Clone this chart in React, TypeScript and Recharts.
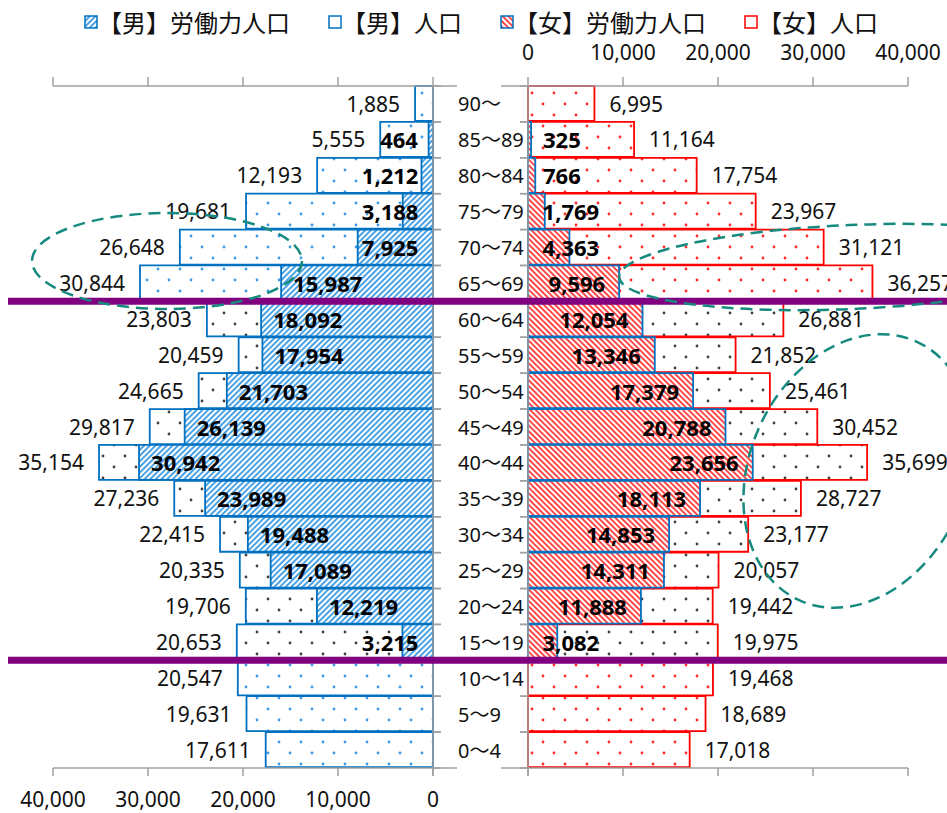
import React from 'react';
import { BarChart, Bar, XAxis, YAxis, Cell, LabelList } from 'recharts';

// age groups, youngest first
const ages = ['0～4', '5～9', '10～14', '15～19', '20～24', '25～29', '30～34', '35～39', '40～44', '45～49', '50～54', '55～59', '60～64', '65～69', '70～74', '75～79', '80～84', '85～89', '90～'];
const workingAges = ['15～19', '20～24', '25～29', '30～34', '35～39', '40～44', '45～49', '50～54', '55～59', '60～64'];

const malePop = [17611, 19631, 20547, 20653, 19706, 20335, 22415, 27236, 35154, 29817, 24665, 20459, 23803, 30844, 26648, 19681, 12193, 5555, 1885];
const maleLabor = [null, null, null, 3215, 12219, 17089, 19488, 23989, 30942, 26139, 21703, 17954, 18092, 15987, 7925, 3188, 1212, 464, null];
const femalePop = [17018, 18689, 19468, 19975, 19442, 20057, 23177, 28727, 35699, 30452, 25461, 21852, 26881, 36257, 31121, 23967, 17754, 11164, 6995];
const femaleLabor = [null, null, null, 3082, 11888, 14311, 14853, 18113, 23656, 20788, 17379, 13346, 12054, 9596, 4363, 1769, 766, 325, null];

const xTicks = [0, 10000, 20000, 30000, 40000];
const legendNames = ['【男】労働力人口', '【男】人口', '【女】労働力人口', '【女】人口'];

const data = ages.map((age, i) => ({
  age,
  malePop: malePop[i],
  maleLabor: maleLabor[i],
  femalePop: femalePop[i],
  femaleLabor: femaleLabor[i],
}));

const W = 947;
const H = 813;
const PLOT_TOP = 86;
const PLOT_BOTTOM = 768;
const L_LEFT = 53;
const L_RIGHT = 433;
const R_LEFT = 528;
const R_RIGHT = 908;
const BAND = (PLOT_BOTTOM - PLOT_TOP) / ages.length;

const FONT = "'Noto Sans', 'Noto Sans CJK JP', sans-serif";
const AXIS = '#a0a0a0';
const BLUE = '#0070C0';
const RED = '#FF0000';

const fmt = (v: number) => v.toLocaleString('en-US');
const blank = () => '';
const boldWidth = (s: string) => s.split('').reduce((w, c) => w + (c === ',' ? 5.8 : 12.6), 0);

const getBox = (p: any) => {
  const vb = p.viewBox || {};
  const x = p.x ?? vb.x;
  const y = p.y ?? vb.y;
  const width = p.width ?? vb.width;
  const height = p.height ?? vb.height;
  return { x, y, width, height };
};

const LeftPopLabel = (p: any) => {
  if (p.value == null) return null;
  const { x, y, width, height } = getBox(p);
  const end = Math.min(x, x + width);
  return (
    <text x={end - 15} y={y + height / 2} textAnchor="end" dominantBaseline="central" fontSize={21} fontFamily={FONT} fill="#111">
      {fmt(p.value)}
    </text>
  );
};

const RightPopLabel = (p: any) => {
  if (p.value == null) return null;
  const { x, y, width, height } = getBox(p);
  const end = Math.max(x, x + width);
  return (
    <text x={end + 15} y={y + height / 2} textAnchor="start" dominantBaseline="central" fontSize={21} fontFamily={FONT} fill="#111">
      {fmt(p.value)}
    </text>
  );
};

const LeftLaborLabel = (p: any) => {
  if (p.value == null) return null;
  const { x, y, width, height } = getBox(p);
  const end = Math.min(x, x + width);
  const s = fmt(p.value);
  const left = Math.min(end + 12, L_RIGHT - 15 - boldWidth(s));
  return (
    <text x={left} y={y + height / 2} textAnchor="start" dominantBaseline="central" fontSize={22} fontWeight="bold" fontFamily={FONT} fill="#000">
      {s}
    </text>
  );
};

const RightLaborLabel = (p: any) => {
  if (p.value == null) return null;
  const { x, y, width, height } = getBox(p);
  const end = Math.max(x, x + width);
  const s = fmt(p.value);
  const right = Math.max(end - 14, R_LEFT + 15 + boldWidth(s));
  return (
    <text x={right} y={y + height / 2} textAnchor="end" dominantBaseline="central" fontSize={22} fontWeight="bold" fontFamily={FONT} fill="#000">
      {s}
    </text>
  );
};

// category ticks sit on band boundaries, like Excel
const LeftCatTick = (p: any) => {
  const y = p.y;
  return (
    <g>
      <line x1={L_RIGHT} x2={L_RIGHT + 8} y1={y - BAND / 2} y2={y - BAND / 2} stroke={AXIS} strokeWidth={1.5} />
      <line x1={L_RIGHT} x2={L_RIGHT + 8} y1={y + BAND / 2} y2={y + BAND / 2} stroke={AXIS} strokeWidth={1.5} />
    </g>
  );
};

const RightCatTick = (p: any) => {
  const y = p.y;
  return (
    <g>
      <line x1={R_LEFT - 8} x2={R_LEFT} y1={y - BAND / 2} y2={y - BAND / 2} stroke={AXIS} strokeWidth={1.5} />
      <line x1={R_LEFT - 8} x2={R_LEFT} y1={y + BAND / 2} y2={y + BAND / 2} stroke={AXIS} strokeWidth={1.5} />
      <text x={458} y={y} textAnchor="start" dominantBaseline="central" fontSize={20} fontFamily={FONT} fill="#111">
        {p.payload.value}
      </text>
    </g>
  );
};

const Patterns = () => (
  <svg width={0} height={0} style={{ position: 'absolute' }}>
    <defs>
      <pattern id="hatchBlue" width={4} height={4} patternUnits="userSpaceOnUse" patternTransform="rotate(45)">
        <rect width={4} height={4} fill="#fff" />
        <rect width={2} height={4} fill="#4ba2e4" />
      </pattern>
      <pattern id="hatchRed" width={4} height={4} patternUnits="userSpaceOnUse" patternTransform="rotate(-45)">
        <rect width={4} height={4} fill="#fff" />
        <rect width={2} height={4} fill="#ff4a4a" />
      </pattern>
      <pattern id="dotBlue" width={22} height={22} patternUnits="userSpaceOnUse">
        <rect width={22} height={22} fill="#fff" />
        <circle cx={4} cy={5} r={1.4} fill="#3d9be9" />
        <circle cx={15} cy={16} r={1.4} fill="#3d9be9" />
      </pattern>
      <pattern id="dotRed" width={22} height={22} patternUnits="userSpaceOnUse">
        <rect width={22} height={22} fill="#fff" />
        <circle cx={4} cy={5} r={1.4} fill="#ff2a2a" />
        <circle cx={15} cy={16} r={1.4} fill="#ff2a2a" />
      </pattern>
      <pattern id="dotDark" width={22} height={22} patternUnits="userSpaceOnUse">
        <rect width={22} height={22} fill="#fff" />
        <circle cx={4} cy={5} r={1.4} fill="#404040" />
        <circle cx={15} cy={16} r={1.4} fill="#404040" />
      </pattern>
    </defs>
  </svg>
);

const Legend = () => {
  const icons = [
    { fill: 'url(#hatchBlue)', stroke: BLUE },
    { fill: '#fff', stroke: BLUE },
    { fill: 'url(#hatchRed)', stroke: BLUE },
    { fill: '#fff', stroke: RED },
  ];
  return (
    <div style={{ position: 'absolute', left: 84, top: 4, display: 'flex', alignItems: 'center', fontFamily: FONT, fontSize: 24, color: '#111', whiteSpace: 'nowrap' }}>
      {legendNames.map((name, i) => (
        <div key={name} style={{ display: 'flex', alignItems: 'center', marginRight: 38 }}>
          <svg width={14} height={14}>
            <rect x={1} y={1} width={12} height={12} fill={icons[i].fill} stroke={icons[i].stroke} strokeWidth={1.5} />
          </svg>
          <span>{name}</span>
        </div>
      ))}
    </div>
  );
};

const Overlay = () => {
  const bIdx = (age: string) => PLOT_TOP + (ages.length - ages.indexOf(age)) * BAND;
  const y65 = bIdx('65～69');
  const y15 = bIdx('15～19');
  return (
    <svg width={W} height={H} style={{ position: 'absolute', left: 0, top: 0, pointerEvents: 'none' }}>
      {/* axis line stubs between the two panels */}
      <line x1={L_RIGHT} x2={457} y1={PLOT_TOP} y2={PLOT_TOP} stroke={AXIS} strokeWidth={1.5} />
      <line x1={L_RIGHT} x2={457} y1={PLOT_BOTTOM} y2={PLOT_BOTTOM} stroke={AXIS} strokeWidth={1.5} />
      <line x1={501} x2={R_LEFT} y1={PLOT_TOP} y2={PLOT_TOP} stroke={AXIS} strokeWidth={1.5} />
      <line x1={501} x2={R_LEFT} y1={PLOT_BOTTOM} y2={PLOT_BOTTOM} stroke={AXIS} strokeWidth={1.5} />
      <line x1={L_RIGHT} x2={L_RIGHT} y1={PLOT_BOTTOM} y2={PLOT_BOTTOM + 8} stroke={AXIS} strokeWidth={1.5} />
      <line x1={R_LEFT} x2={R_LEFT} y1={PLOT_BOTTOM} y2={PLOT_BOTTOM + 8} stroke={AXIS} strokeWidth={1.5} />
      {/* purple boundaries */}
      <line x1={8} x2={W} y1={y65} y2={y65} stroke="#800080" strokeWidth={7} />
      <line x1={8} x2={W} y1={y15} y2={y15} stroke="#800080" strokeWidth={7} />
      {/* dashed ellipses */}
      <g fill="none" stroke="#178a80" strokeWidth={2.5} strokeDasharray="12 7">
        <ellipse cx={167} cy={261} rx={135} ry={48} />
        <ellipse cx={851} cy={267} rx={232} ry={42} transform="rotate(-2.5 851 267)" />
        <ellipse cx={858} cy={471} rx={108} ry={142} transform="rotate(24.5 858 471)" />
      </g>
    </svg>
  );
};

const tickStyle = { fontSize: 21, fontFamily: FONT, fill: '#111' };
const axisLine = { stroke: AXIS, strokeWidth: 1.5 };

const App = () => {
  return (
    <div style={{ position: 'absolute', left: 0, top: 0, width: W, height: H, background: '#fff', overflow: 'hidden' }}>
      <Patterns />
      <Legend />

      {/* male (left): population on the bottom axis, labour force on the top axis, overlapped */}
      <div style={{ position: 'absolute', left: 0, top: 0 }}>
        <BarChart
          width={W}
          height={H}
          data={data}
          layout="vertical"
          margin={{ top: PLOT_TOP - 30, bottom: H - PLOT_BOTTOM - 40, left: L_LEFT, right: W - L_RIGHT - 10 }}
          barSize={35}
        >
          <XAxis xAxisId="bottom" type="number" domain={[0, 40000]} ticks={xTicks} interval={0} reversed orientation="bottom" height={40}
            tickFormatter={fmt} tick={tickStyle} axisLine={axisLine} tickLine={axisLine} tickSize={8} tickMargin={16} />
          <XAxis xAxisId="top" type="number" domain={[0, 40000]} ticks={xTicks} interval={0} reversed orientation="top" height={30}
            tickFormatter={blank} tick={tickStyle} axisLine={axisLine} tickLine={axisLine} tickSize={9} />
          <YAxis yAxisId="pop" type="category" dataKey="age" orientation="right" width={10} reversed interval={0}
            axisLine={axisLine} tickLine={false} tick={<LeftCatTick />} />
          <YAxis yAxisId="labor" type="category" dataKey="age" orientation="left" width={0} reversed hide />
          <Bar dataKey="malePop" xAxisId="bottom" yAxisId="pop" stroke={BLUE} strokeWidth={1.8} isAnimationActive={false}>
            {data.map((d) => (
              <Cell key={d.age} fill={workingAges.includes(d.age) ? 'url(#dotDark)' : 'url(#dotBlue)'} />
            ))}
            <LabelList dataKey="malePop" content={<LeftPopLabel />} />
          </Bar>
          <Bar dataKey="maleLabor" xAxisId="top" yAxisId="labor" fill="url(#hatchBlue)" stroke={BLUE} strokeWidth={1.8} isAnimationActive={false}>
            <LabelList dataKey="maleLabor" content={<LeftLaborLabel />} />
          </Bar>
        </BarChart>
      </div>

      {/* female (right) */}
      <div style={{ position: 'absolute', left: 0, top: 0 }}>
        <BarChart
          width={W}
          height={H}
          data={data}
          layout="vertical"
          margin={{ top: PLOT_TOP - 30, bottom: H - PLOT_BOTTOM - 40, left: R_LEFT - 10, right: W - R_RIGHT }}
          barSize={35}
        >
          <XAxis xAxisId="top" type="number" domain={[0, 40000]} ticks={xTicks} interval={0} orientation="top" height={30}
            tickFormatter={fmt} tick={tickStyle} axisLine={axisLine} tickLine={axisLine} tickSize={9} tickMargin={17} />
          <XAxis xAxisId="bottom" type="number" domain={[0, 40000]} ticks={xTicks} interval={0} orientation="bottom" height={40}
            tickFormatter={blank} tick={tickStyle} axisLine={axisLine} tickLine={axisLine} tickSize={8} />
          <YAxis yAxisId="pop" type="category" dataKey="age" orientation="left" width={10} reversed interval={0}
            axisLine={axisLine} tickLine={false} tick={<RightCatTick />} />
          <YAxis yAxisId="labor" type="category" dataKey="age" orientation="right" width={0} reversed hide />
          <Bar dataKey="femalePop" xAxisId="bottom" yAxisId="pop" stroke={RED} strokeWidth={1.8} isAnimationActive={false}>
            {data.map((d) => (
              <Cell key={d.age} fill={workingAges.includes(d.age) ? 'url(#dotDark)' : 'url(#dotRed)'} />
            ))}
            <LabelList dataKey="femalePop" content={<RightPopLabel />} />
          </Bar>
          <Bar dataKey="femaleLabor" xAxisId="top" yAxisId="labor" fill="url(#hatchRed)" stroke={BLUE} strokeWidth={1.8} isAnimationActive={false}>
            <LabelList dataKey="femaleLabor" content={<RightLaborLabel />} />
          </Bar>
        </BarChart>
      </div>

      <Overlay />
    </div>
  );
};

export default App;
